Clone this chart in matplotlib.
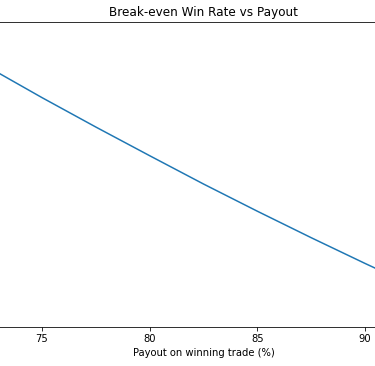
import matplotlib
matplotlib.use("Agg")
import matplotlib.pyplot as plt

# payout (%) vs break-even win rate (%)
payout = [70, 72.5, 75, 77.5, 80, 82.5, 85, 87.5, 90, 92.5, 95]
win_rate = [58.82, 57.97, 57.14, 56.34, 55.56, 54.79, 54.05, 53.33, 52.63, 51.95, 51.28]
xticks = [75, 80, 85, 90]

# dpi 72 -> 1 pt = 1 px, like the (downscaled) reference
fig = plt.figure(figsize=(375 / 72, 366 / 72), dpi=72)
# axes wider than the figure, only the middle part is visible
ax = fig.add_axes([-92.6 / 375, 39 / 366, 592.4 / 375, 305 / 366])
ax.plot(payout, win_rate)
ax.set_title("Break-even Win Rate vs Payout")
ax.set_xlabel("Payout on winning trade (%)")
ax.set_xticks(xticks)
ax.set_yticks([])  # y axis is outside the visible area

fig.savefig("out.png", dpi=72)
